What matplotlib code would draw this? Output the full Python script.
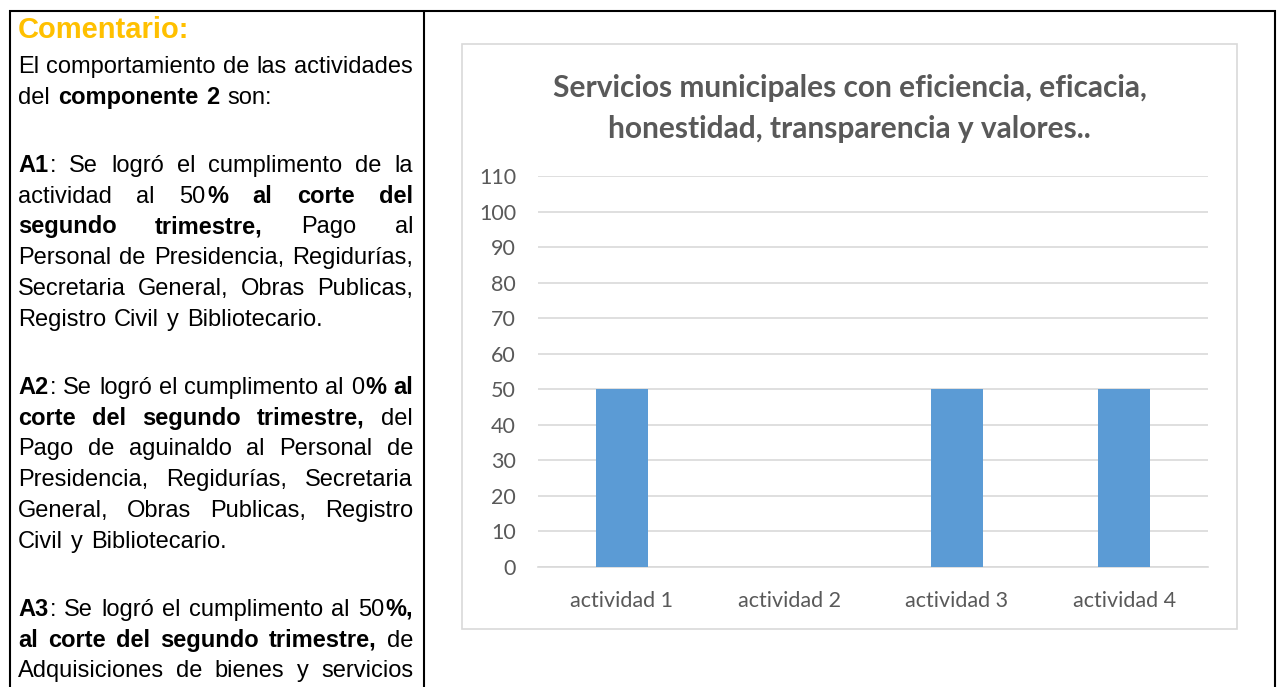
"""Ficha de comentario + gráfica de barras del componente 2 (recreación)."""
import matplotlib

matplotlib.use("Agg")
import matplotlib.pyplot as plt
from matplotlib.patches import Rectangle

W, H, DPI = 1277, 687, 100

# chart data
CATEGORIES = ["actividad 1", "actividad 2", "actividad 3", "actividad 4"]
VALUES = [50, 0, 50, 50]
Y_TICKS = list(range(0, 111, 10))
TITLE_LINES = [
    "Servicios municipales con eficiencia, eficacia,",
    "honestidad, transparencia y valores..",
]

# left cell text, ** toggles bold; last line of each paragraph is not justified
HEADING = "Comentario:"
PARAGRAPHS = [
    ["El comportamiento de las actividades",
     "del **componente 2** son:"],
    ["**A1**: Se logró el cumplimento de la",
     "actividad al 50**% al corte del**",
     "**segundo trimestre,** Pago al",
     "Personal de Presidencia, Regidurías,",
     "Secretaria General, Obras Publicas,",
     "Registro Civil y Bibliotecario."],
    ["**A2**: Se logró el cumplimento al 0**% al**",
     "**corte del segundo trimestre,** del",
     "Pago de aguinaldo al Personal de",
     "Presidencia, Regidurías, Secretaria",
     "General, Obras Publicas, Registro",
     "Civil y Bibliotecario."],
    ["**A3**: Se logró el cumplimento al 50**%,**",
     "**al corte del segundo trimestre,** de",
     "Adquisiciones de bienes y servicios"],
]
OPEN_LAST = {3}  # paragraph that continues past the page edge

BAR = "#5B9BD5"
GRID = "#D9D9D9"
GRAY_TXT = "#595959"
GOLD = "#FFC000"
BODY_FONT = ["Liberation Sans", "DejaVu Sans"]
CHART_FONT = ["Lato", "DejaVu Sans"]
BODY_SIZE = 17


def parse_words(line):
    """Split a marked-up line into words, each a list of (text, bold) runs."""
    chars, bold = [], False
    parts = line.split("**")
    for i, part in enumerate(parts):
        for ch in part:
            chars.append((ch, bold))
        if i < len(parts) - 1:
            bold = not bold
    words, cur = [], []
    for ch, b in chars + [(" ", False)]:
        if ch == " ":
            if cur:
                runs = []
                for c, cb in cur:
                    if runs and runs[-1][1] == cb:
                        runs[-1][0] += c
                    else:
                        runs.append([c, cb])
                words.append(runs)
                cur = []
        else:
            cur.append((ch, b))
    return words


def draw_line(ax, renderer, line, y, x0, x1, justify, size):
    words = parse_words(line)
    placed = []
    for runs in words:
        arts, width = [], 0.0
        for k, (txt, b) in enumerate(runs):
            t = ax.text(0, y, txt, fontsize=size, family=BODY_FONT,
                        weight="bold" if b else "normal", va="baseline",
                        ha="left", color="black")
            w = t.get_window_extent(renderer).width
            arts.append((t, width))
            width += w + (1.5 if k < len(runs) - 1 else 0)
        placed.append((arts, width))
    total = sum(w for _, w in placed)
    space = 0.278 * size * DPI / 72 + 1.5
    if justify and len(placed) > 1:
        space = (x1 - x0 - total) / (len(placed) - 1)
    x = x0
    for arts, width in placed:
        for t, off in arts:
            t.set_x(x + off)
        x += width + space


fig = plt.figure(figsize=(W / DPI, H / DPI), dpi=DPI)
fig.patch.set_facecolor("white")

# full-figure pixel overlay for the table, chart frame and text
bg = fig.add_axes([0, 0, 1, 1])
bg.set_xlim(0, W)
bg.set_ylim(H, 0)
bg.axis("off")
renderer = fig.canvas.get_renderer()

for x in (9.5, 424, 1275):
    bg.plot([x, x], [10, H], color="black", lw=1.5, solid_capstyle="butt")
bg.plot([8.5, 1276], [11, 11], color="black", lw=1.5, solid_capstyle="butt")
bg.add_patch(Rectangle((462, 44), 775, 585, facecolor="white",
                       edgecolor=GRID, lw=1.2))

bg.text(18, 38, HEADING, fontsize=21, family=BODY_FONT, weight="bold",
        color=GOLD, va="baseline", ha="left")

y = 73.0
for pi, para in enumerate(PARAGRAPHS):
    for li, line in enumerate(para):
        last = li == len(para) - 1 and pi not in OPEN_LAST
        draw_line(bg, renderer, line, y, 18, 413, not last, BODY_SIZE)
        y += 30.8
    y += 68 - 30.8

for yy, line in zip((97, 138), TITLE_LINES):
    bg.text(849.5, yy, line, fontsize=21.5, family=CHART_FONT, weight="bold",
            color=GRAY_TXT, ha="center", va="baseline")

# bar chart
ax = fig.add_axes([538 / W, (H - 567) / H, 670 / W, 391 / H])
ax.patch.set_alpha(0)
ax.bar(range(len(CATEGORIES)), VALUES, width=0.313, color=BAR, zorder=3)
ax.set_xlim(-0.5, len(CATEGORIES) - 0.5)
ax.set_ylim(0, 110)
ax.set_yticks(Y_TICKS)
ax.set_xticks(range(len(CATEGORIES)))
ax.set_xticklabels(CATEGORIES)
ax.grid(axis="y", color=GRID, lw=1.2, zorder=0)
ax.set_axisbelow(True)
for side in ("top", "right", "left"):
    ax.spines[side].set_visible(False)
ax.spines["bottom"].set_color(GRID)
ax.spines["bottom"].set_linewidth(1.2)
ax.tick_params(axis="y", length=0, pad=15.8, labelsize=15.5, labelcolor=GRAY_TXT)
ax.tick_params(axis="x", length=0, pad=17.5, labelsize=15.5, labelcolor=GRAY_TXT)
for lab in ax.get_xticklabels() + ax.get_yticklabels():
    lab.set_family(CHART_FONT)

fig.savefig("out.png", dpi=DPI)
